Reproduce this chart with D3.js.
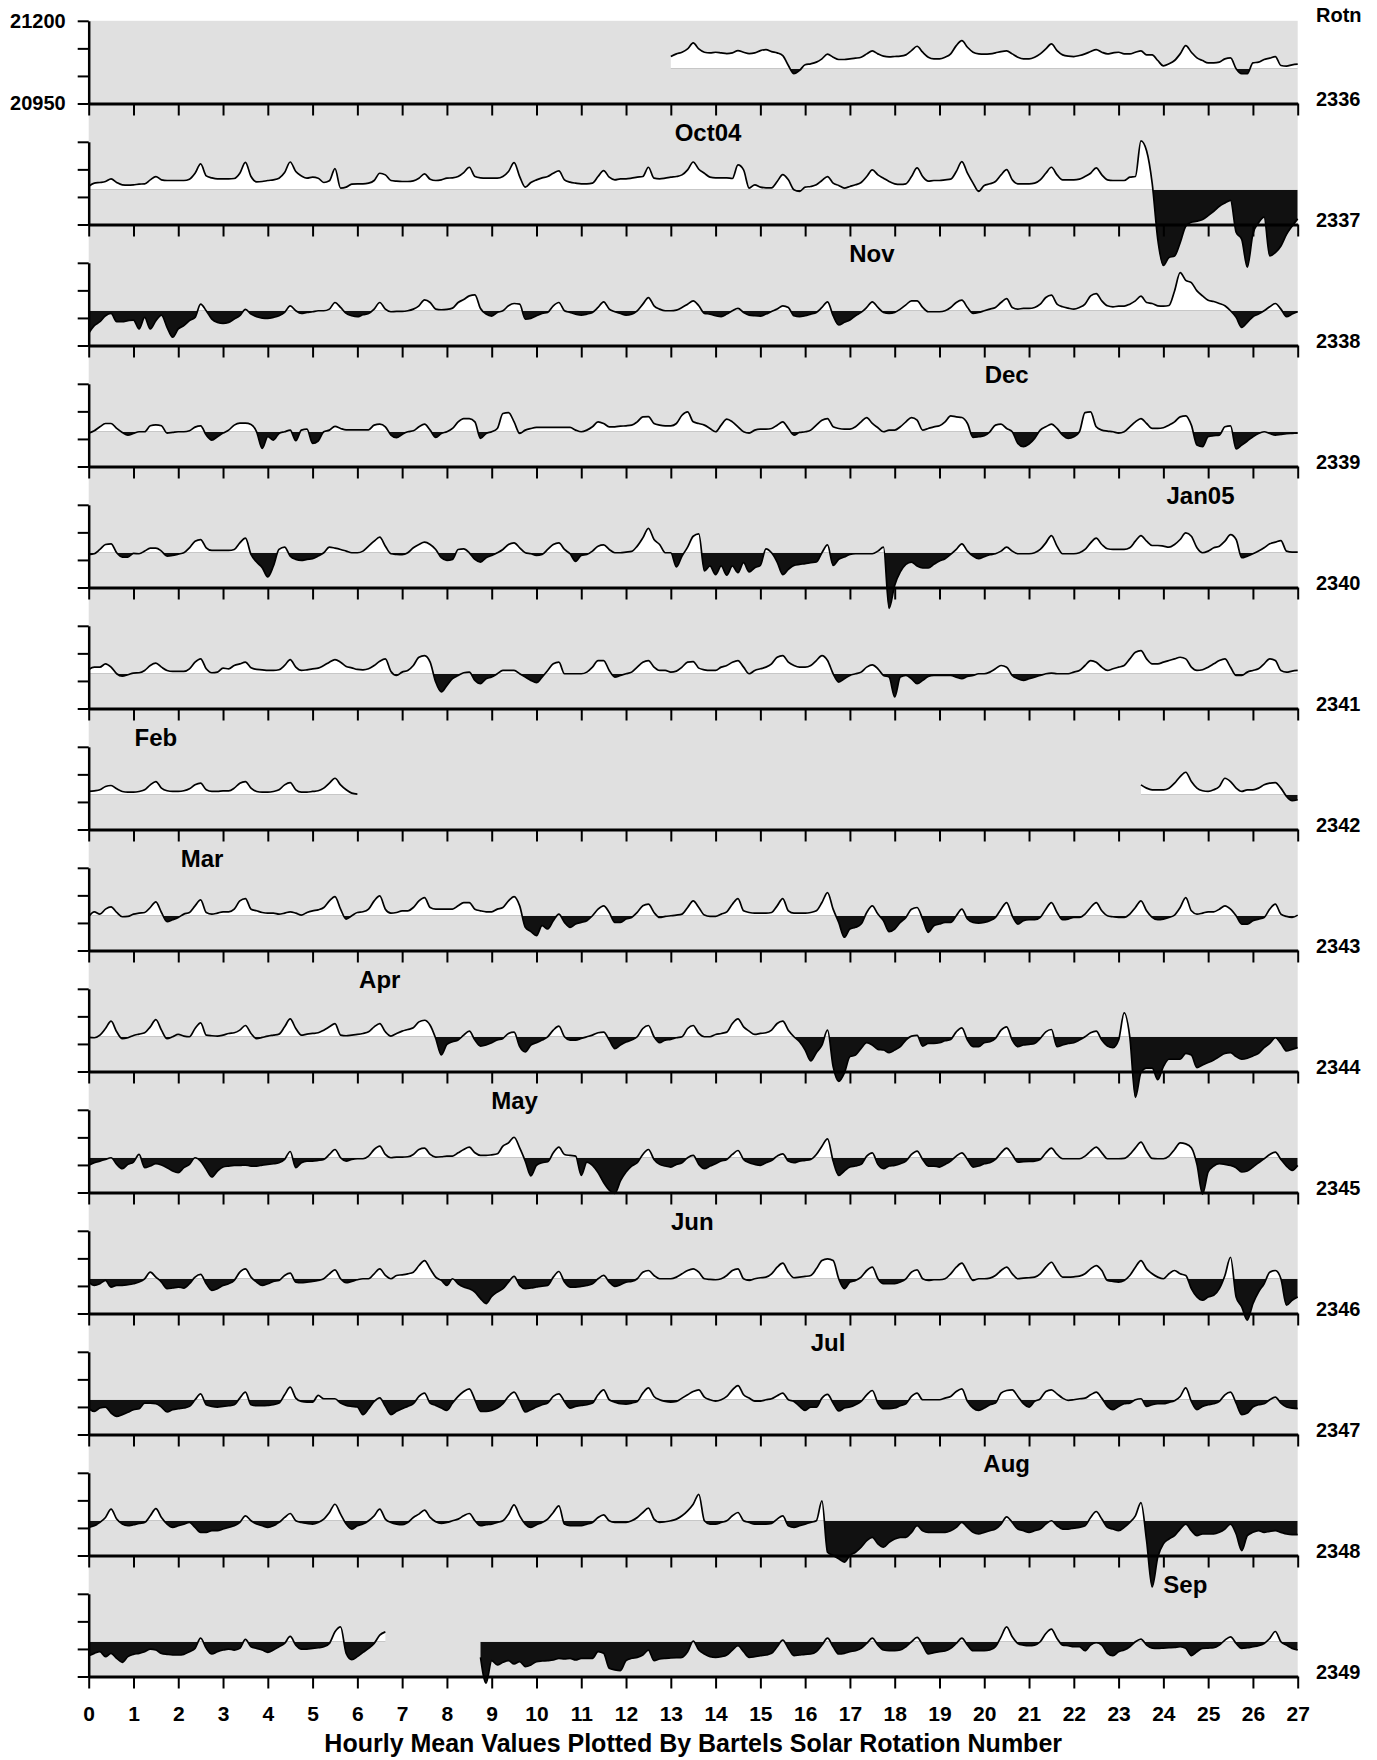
<!DOCTYPE html>
<html>
<head>
<meta charset="utf-8">
<script src="https://cdn.jsdelivr.net/npm/d3@7"></script>
<style>
  body { margin: 0; background: #fff; }
  svg { display: block; font-family: "Liberation Sans", Arial, Helvetica, sans-serif; font-weight: bold; }
</style>
</head>
<body>
<svg id="chart" width="1377" height="1760"></svg>
<script>
// Hourly mean H, one row per Bartels rotation.
// Values are nT departures from QUIET, every 3 hours (8 per day, day 0 .. 27).
// null = no data.
const _ = null
const QUIET = 21055
const Y_LABELS = [21200, 20950]
const ROTATIONS = [2336, 2337, 2338, 2339, 2340, 2341, 2342, 2343, 2344, 2345, 2346, 2347, 2348, 2349]
const MONTHS = ['Oct04', 'Nov', 'Dec', 'Jan05', 'Feb', 'Mar', 'Apr', 'May', 'Jun', 'Jul', 'Aug', 'Sep']
const MONTH_ROW = [1, 2, 3, 4, 6, 7, 8, 9, 10, 11, 12, 13]
const MONTH_DAY = [13.83, 17.49, 20.5, 24.83, 1.5, 2.53, 6.5, 9.51, 13.48, 16.51, 20.5, 24.49]
const DAYS = d3.range(0, 28)

const h2336 = [
  _,_,_,_,_,_,_,_, _,_,_,_,_,_,_,_, _,_,_,_,_,_,_,_, _,_,_,_,_,_,_,_,
  _,_,_,_,_,_,_,_, _,_,_,_,_,_,_,_, _,_,_,_,_,_,_,_, _,_,_,_,_,_,_,_,
  _,_,_,_,_,_,_,_, _,_,_,_,_,_,_,_, _,_,_,_,_,_,_,_, _,_,_,_,_,_,_,_,
  _,_,_,_,_,_,_,_,
  37,45,50,60,78,60,50,48,
  50,48,46,48,55,50,46,48,
  55,58,52,48,40,10,-15,-5,
  12,15,20,30,44,35,28,28,
  30,32,35,45,54,45,38,36,
  37,38,42,55,68,50,35,30,
  30,35,45,70,85,65,50,45,
  44,45,48,52,54,45,35,30,
  30,35,45,60,75,55,42,38,
  37,40,45,52,58,50,45,48,
  50,45,45,50,54,42,42,25,
  9,15,25,45,70,50,33,25,
  18,18,20,30,33,0,-15,-15,
  18,20,28,32,37,10,8,12,
  14]

const h2337 = [
  10,20,22,25,33,22,15,14,
  15,17,18,30,40,30,28,28,
  28,28,32,50,78,42,36,33,
  33,33,34,50,83,40,24,25,
  28,30,35,52,84,55,42,35,
  38,35,22,27,64,5,8,17,
  18,18,20,28,50,45,28,26,
  25,25,27,35,48,32,28,30,
  35,36,40,52,68,40,36,35,
  35,35,40,55,82,40,8,22,
  30,36,40,50,57,30,23,20,
  18,18,20,40,58,38,30,33,
  33,35,38,40,68,35,33,35,
  38,40,45,60,84,62,50,38,
  36,36,36,34,75,60,5,15,
  8,6,6,25,46,30,0,-5,
  8,10,15,28,40,20,13,5,
  10,15,22,40,60,45,35,25,
  18,16,18,40,66,40,26,28,
  28,30,32,55,85,50,20,-5,
  13,18,25,45,61,30,18,18,
  18,20,30,50,68,45,30,30,
  30,32,40,50,66,45,30,28,
  28,28,38,40,148,118,20,-150,
  -229,-205,-200,-160,-110,-98,-95,-90,
  -78,-65,-50,-40,-32,-128,-150,-234,
  -133,-100,-83,-200,-190,-170,-135,-110,
  -88]

const h2338 = [
  -68,-45,-33,-15,-8,-33,-33,-30,
  -28,-55,-20,-55,-30,-13,-50,-80,
  -55,-45,-30,-20,20,0,-25,-35,
  -38,-35,-25,-15,4,-10,-18,-22,
  -23,-20,-15,-5,15,0,-8,-5,
  -3,0,0,5,25,10,-8,-15,
  -18,-12,-8,5,25,5,-3,-2,
  -2,0,5,15,33,25,5,3,
  4,8,25,34,45,48,7,-10,
  -16,-5,0,15,22,20,-25,-23,
  -15,-8,-5,15,25,0,-5,-10,
  -13,-10,-5,10,27,5,-3,-8,
  -13,-10,0,20,40,15,5,0,
  0,2,10,20,30,15,-8,-10,
  -15,-18,-10,0,7,-5,-13,-15,
  -16,-10,-2,5,15,10,-15,-18,
  -15,-10,-5,10,27,-15,-43,-35,
  -28,-15,-5,10,27,10,-5,-8,
  -5,5,18,30,30,10,-3,-3,
  -3,0,10,25,32,10,-8,-5,
  0,5,10,25,37,10,5,7,
  7,10,20,40,47,20,12,8,
  5,10,20,45,52,30,15,12,
  14,14,20,30,44,25,22,15,
  14,16,60,115,92,85,60,45,
  32,28,22,15,0,-20,-50,-35,
  -18,-10,0,12,22,5,-18,-10,
  -3]

const h2339 = [
  -4,3,15,25,25,10,-2,-10,
  -5,0,0,18,21,18,-4,-2,
  0,0,3,14,18,-10,-25,-15,
  -4,5,20,26,26,22,0,-50,
  -15,-25,-5,0,5,-27,5,8,
  -35,-28,0,5,16,10,6,6,
  6,6,6,20,23,15,-10,-18,
  -8,0,3,15,23,5,-17,-5,
  0,10,30,40,40,30,-20,-5,
  0,10,55,58,30,-5,5,10,
  13,13,13,13,13,13,13,5,
  0,5,15,30,25,15,15,17,
  18,20,30,45,46,25,20,18,
  18,25,50,60,30,25,20,10,
  0,20,38,30,15,0,-4,5,
  8,8,10,20,30,10,-10,-2,
  0,5,20,35,40,15,10,8,
  8,15,30,43,25,12,0,5,
  5,15,30,43,35,5,10,15,
  18,30,48,45,43,25,-17,-15,
  -12,0,20,23,10,0,-35,-45,
  -37,-20,5,15,23,10,-10,-20,
  -15,0,58,60,15,5,2,0,
  -4,0,15,30,40,25,10,10,
  12,20,30,45,48,20,-40,-45,
  -15,-12,-10,15,18,-52,-40,-28,
  -15,-5,0,-5,-10,-8,-6,-5,
  -4]

const h2340 = [
  -6,-3,10,25,27,0,-13,-13,
  -2,-3,5,14,14,5,-10,-8,
  -4,0,15,35,40,15,7,7,
  7,7,10,30,44,-5,-28,-45,
  -73,-40,10,17,-10,-20,-23,-20,
  -18,-10,0,17,14,10,5,0,
  0,5,20,35,47,20,-3,-5,
  -6,0,15,25,32,25,10,-15,
  -23,-20,10,12,0,-20,-28,-15,
  -8,0,10,25,30,15,0,-3,
  -8,-5,10,25,30,10,-3,-26,
  -8,-5,5,20,24,10,0,0,
  2,4,20,45,74,40,25,0,
  0,-43,-10,17,50,57,-55,-40,
  -66,-40,-68,-40,-60,-30,-58,-45,
  -38,12,0,-28,-66,-50,-38,-35,
  -33,-30,-28,0,24,-38,-20,-13,
  -5,-3,-3,-3,-3,5,17,-168,
  -98,-58,-35,-28,-40,-46,-46,-35,
  -25,-18,-5,10,27,5,-10,-18,
  -12,-6,-3,5,17,5,-3,-3,
  -3,0,10,30,52,20,-3,-3,
  -3,0,10,30,44,25,12,10,
  10,10,15,35,52,35,22,22,
  20,17,25,40,60,50,15,0,
  5,15,20,35,55,40,-15,-10,
  -3,5,15,27,32,37,5,2,
  2]

const h2341 = [
  13,20,20,30,20,0,-7,-3,
  2,3,10,25,32,20,10,7,
  7,7,15,35,45,15,3,5,
  17,15,25,30,35,18,13,12,
  10,10,12,25,43,20,10,12,
  15,17,25,35,43,35,22,18,
  13,12,15,25,38,45,7,-5,
  5,10,25,50,55,35,-25,-55,
  -35,-15,-5,3,5,-20,-30,-15,
  -10,0,10,10,10,0,-10,-20,
  -27,-10,10,30,35,0,0,0,
  0,5,20,40,40,10,-10,-5,
  0,5,20,35,40,20,10,10,
  5,8,20,35,37,17,12,10,
  10,20,25,35,40,20,0,10,
  15,20,30,50,55,35,25,20,
  20,25,40,55,40,0,-25,-15,
  -5,0,5,20,27,15,-5,-10,
  -70,-10,-5,-15,-30,-20,-8,-5,
  -5,-5,-5,-10,-15,-8,-5,0,
  0,5,15,25,20,-5,-15,-20,
  -15,-10,-5,0,2,0,0,0,
  5,10,25,40,35,20,10,15,
  20,25,45,65,70,45,30,30,
  35,40,45,50,45,20,10,12,
  20,30,40,45,20,-5,-5,5,
  10,15,30,45,40,10,5,8,
  10]

const h2342 = [
  10,12,15,25,28,18,10,8,
  8,10,15,30,40,20,12,10,
  10,12,18,30,35,15,10,10,
  12,12,20,35,40,20,10,8,
  8,10,15,30,37,15,8,8,
  10,12,20,35,50,30,15,5,
  2,_,_,_,_,_,_,_,
  _,_,_,_,_,_,_,_, _,_,_,_,_,_,_,_, _,_,_,_,_,_,_,_, _,_,_,_,_,_,_,_,
  _,_,_,_,_,_,_,_, _,_,_,_,_,_,_,_, _,_,_,_,_,_,_,_, _,_,_,_,_,_,_,_,
  _,_,_,_,_,_,_,_, _,_,_,_,_,_,_,_, _,_,_,_,_,_,_,_, _,_,_,_,_,_,_,_,
  _,_,_,_,_,_,_,_, _,_,_,_,_,_,_,_, _,_,_,_,_,_,_,_, _,_,_,_,_,_,_,_,
  _,_,_,_,30,20,15,15,
  15,20,35,55,68,40,20,12,
  10,15,25,50,40,20,10,15,
  15,20,30,35,37,20,-5,-18,
  -15]

const h2343 = [
  -2,12,5,20,27,10,-3,-2,
  5,8,10,25,42,10,-18,-12,
  -5,5,10,30,48,10,5,8,
  12,12,20,45,52,20,15,10,
  8,8,5,8,12,8,2,10,
  15,18,25,45,58,20,-10,0,
  10,12,20,45,60,20,8,10,
  15,15,25,45,55,25,20,20,
  20,20,30,40,40,20,15,12,
  12,20,25,45,58,30,-35,-48,
  -60,-30,-40,-15,5,-20,-35,-25,
  -20,-15,0,20,30,10,-20,-20,
  -10,-5,10,30,35,10,-5,-2,
  0,2,5,25,45,25,2,-2,
  -2,5,12,35,52,15,10,8,
  8,8,10,30,52,15,8,8,
  8,10,15,40,70,20,-20,-65,
  -40,-35,-25,10,30,5,-15,-48,
  -40,-20,-5,20,25,-10,-50,-30,
  -25,-20,-20,0,20,-10,-20,-22,
  -20,-15,-5,20,40,0,-25,-15,
  -12,-12,-5,20,40,10,-12,-10,
  -5,-5,5,25,40,15,0,-3,
  -5,-5,5,25,45,15,-5,-12,
  -10,-5,2,25,55,15,5,8,
  12,12,20,30,20,0,-25,-25,
  -15,-10,-5,20,35,5,-2,-5,
  2]

const h2344 = [
  -2,-3,5,25,47,15,-6,-3,
  4,8,12,30,52,20,-6,0,
  7,2,0,25,42,5,3,2,
  5,10,12,20,34,10,-6,-2,
  2,5,8,30,54,25,5,8,
  10,12,20,30,40,5,3,5,
  7,10,15,30,40,15,2,10,
  17,22,27,45,50,35,-5,-55,
  -23,-15,-10,5,17,-10,-28,-25,
  -18,-10,-5,10,14,-30,-46,-25,
  -18,-10,0,20,32,0,-10,-10,
  -5,0,5,12,14,-10,-36,-25,
  -16,-10,0,25,34,0,-18,-10,
  -8,-3,0,25,34,10,0,0,
  7,10,14,40,54,30,17,7,
  10,12,20,40,47,20,0,-15,
  -40,-73,-48,-25,20,-90,-135,-110,
  -60,-55,-35,-18,-25,-38,-40,-48,
  -40,-30,-10,2,4,-28,-20,-20,
  -18,-12,-8,15,27,-10,-30,-30,
  -18,-15,-5,20,30,-10,-30,-25,
  -23,-20,-5,15,22,-30,-25,-20,
  -18,-10,0,12,17,-10,-28,-33,
  -10,72,0,-183,-108,-95,-95,-130,
  -90,-68,-68,-68,-50,-55,-93,-85,
  -78,-70,-60,-50,-48,-60,-68,-65,
  -58,-50,-33,-20,-3,-20,-43,-38,
  -33]

const h2345 = [
  -23,-15,-10,-5,0,-20,-33,-20,
  -13,10,-30,-25,-18,-22,-30,-40,
  -45,-30,-20,0,-10,-35,-58,-40,
  -28,-25,-23,-23,-22,-25,-25,-22,
  -20,-18,-15,-5,19,-30,-15,-10,
  -10,-8,-5,10,25,0,-10,-5,
  -3,-3,5,25,35,10,0,2,
  2,3,10,25,29,10,2,3,
  5,5,15,25,32,15,7,7,
  9,12,35,45,62,30,-10,-55,
  -23,-15,-12,15,32,10,7,5,
  -53,-13,-23,-45,-75,-98,-108,-70,
  -43,-25,-15,10,25,-5,-20,-25,
  -28,-20,-15,0,7,-20,-33,-25,
  -18,-10,-5,10,22,-5,-15,-20,
  -23,-15,-8,5,12,-10,-15,-10,
  -8,-5,10,35,57,-10,-53,-40,
  -28,-25,-20,5,15,-20,-33,-25,
  -23,-18,-10,10,20,-5,-25,-25,
  -28,-20,-10,5,15,-5,-28,-25,
  -18,-15,-5,15,29,10,-13,-12,
  -11,-10,-5,15,29,10,-3,-3,
  -3,-3,5,20,32,15,-3,-3,
  -3,-2,10,30,47,20,-2,-3,
  -3,5,25,45,42,30,-20,-110,
  -43,-25,-18,-20,-23,-30,-43,-40,
  -28,-15,-3,10,17,-5,-25,-38,
  -23]

const h2346 = [
  -10,-20,-15,-5,-25,-20,-20,-18,
  -15,-10,0,20,5,-10,-30,-28,
  -25,-28,-15,5,13,-15,-35,-30,
  -20,-15,-5,20,30,5,-10,-20,
  -15,-8,-5,10,17,-10,-12,-10,
  -8,-5,0,15,27,0,-12,-8,
  -3,0,0,15,30,10,0,10,
  12,15,20,40,55,30,5,-5,
  -20,0,-15,-25,-30,-40,-60,-75,
  -53,-40,-30,-10,7,-20,-30,-28,
  -25,-22,-20,5,22,-10,-25,-25,
  -23,-20,-15,0,10,-10,-23,-18,
  -10,-8,0,20,25,10,0,0,
  0,5,15,25,30,20,0,-2,
  -3,0,10,25,30,0,-5,0,
  3,5,15,35,47,20,3,5,
  7,10,30,55,60,55,0,-30,
  -10,-5,5,25,35,0,-15,-15,
  -15,-10,0,20,27,0,-5,-3,
  -3,0,15,35,47,20,-5,0,
  0,2,10,25,35,15,0,2,
  3,5,15,35,50,25,5,5,
  6,8,15,30,40,25,-5,-8,
  -10,-5,10,35,55,30,15,5,
  0,15,25,15,10,-30,-55,-65,
  -55,-50,-30,10,65,-55,-85,-125,
  -75,-40,-15,20,25,0,-80,-65,
  -55]

const h2347 = [
  -27,-35,-25,-22,-40,-50,-45,-38,
  -30,-27,-10,-10,-12,-22,-37,-30,
  -27,-25,-20,0,18,-15,-20,-22,
  -20,-18,-15,5,23,-15,-18,-18,
  -17,-15,-10,15,38,5,-5,-7,
  -7,13,3,3,3,-10,-17,-20,
  -22,-45,-27,-5,6,-20,-45,-35,
  -27,-20,-12,10,20,-10,-17,-25,
  -32,-10,10,25,33,0,-35,-35,
  -32,-25,-12,10,23,-5,-37,-30,
  -22,-15,-10,10,18,-5,-25,-20,
  -17,-15,-10,15,30,0,-7,-12,
  -13,-10,-5,20,36,10,0,-5,
  -7,-5,5,15,25,30,8,0,
  -4,0,10,30,43,15,5,-4,
  -4,0,3,12,20,0,-5,-20,
  -32,-22,-22,5,16,-10,-34,-25,
  -22,-15,-5,15,28,-10,-27,-27,
  -25,-18,-12,10,20,0,0,0,
  0,5,10,25,33,-5,-25,-32,
  -25,-15,-10,20,28,30,10,-12,
  -22,-5,3,25,30,18,5,-2,
  0,3,5,15,23,5,-20,-30,
  -20,-12,-10,0,3,-20,-15,-12,
  -12,-8,-3,10,36,-5,-30,-20,
  -15,-12,-5,15,23,-10,-45,-40,
  -22,-15,-12,0,8,-10,-22,-25,
  -27]

const h2348 = [
  -20,-15,-5,10,35,5,-10,-15,
  -12,-8,-5,15,37,10,-10,-20,
  -15,-10,-5,-20,-35,-35,-30,-30,
  -25,-20,-15,-5,15,0,-10,-15,
  -20,-15,-5,10,22,0,-5,-8,
  -10,-5,5,25,50,20,-10,-25,
  -15,-10,0,15,35,5,-5,-10,
  -12,-5,10,20,32,10,-3,-8,
  -5,0,5,15,22,0,-15,-12,
  -10,-5,0,20,48,15,-10,-20,
  -12,-5,5,25,45,-10,-15,-15,
  -15,-10,-5,10,18,0,-5,-5,
  -5,0,10,25,38,5,-5,-3,
  0,5,15,30,50,80,0,-10,
  -10,-5,0,15,25,0,-5,-10,
  -10,-10,-8,5,15,-15,-20,-15,
  -10,-5,0,60,-95,-105,-115,-125,
  -105,-95,-80,-60,-50,-70,-80,-65,
  -55,-50,-50,-35,-15,-30,-35,-35,
  -35,-35,-30,-20,-5,-20,-35,-40,
  -35,-30,-25,-10,12,-5,-25,-30,
  -35,-30,-25,-10,0,-15,-25,-25,
  -22,-20,-15,10,28,5,-20,-25,
  -30,-20,-5,15,55,-60,-200,-110,
  -70,-55,-45,-25,-10,-30,-45,-40,
  -40,-40,-35,-25,-10,-40,-90,-45,
  -35,-30,-35,-32,-30,-35,-40,-42,
  -42]

const h2349 = [
  -42,-35,-30,-45,-35,-50,-62,-45,
  -38,-35,-30,-22,-25,-35,-38,-40,
  -40,-38,-30,-20,11,-20,-37,-30,
  -25,-22,-25,-20,7,-15,-20,-25,
  -32,-25,-15,-5,16,-10,-22,-22,
  -20,-18,-15,-5,30,45,-35,-54,
  -45,-32,-20,-5,20,30,_,_,
  _,_,_,_,_,_,_,_,
  _,_,_,_,_,_,-47,-125,
  -57,-70,-62,-57,-67,-60,-75,-70,
  -60,-58,-57,-55,-50,-52,-50,-55,
  -50,-50,-50,-30,-35,-80,-85,-87,
  -57,-50,-47,-40,-25,-57,-52,-50,
  -49,-48,-47,-30,2,-25,-37,-45,
  -47,-45,-40,-25,-12,-30,-47,-45,
  -42,-40,-35,-15,5,-20,-42,-40,
  -38,-37,-30,-10,11,-15,-37,-35,
  -30,-27,-20,-5,11,-10,-25,-27,
  -27,-25,-15,0,13,-10,-37,-33,
  -30,-28,-20,-5,11,-10,-27,-27,
  -27,-25,-15,15,45,15,-5,-10,
  -12,-10,0,25,38,10,-10,-12,
  -15,-15,-27,-10,-3,-10,-35,-42,
  -30,-25,-15,0,8,-10,-19,-20,
  -19,-18,-17,-15,-20,-42,-30,-20,
  -19,-18,-10,5,15,-5,-20,-18,
  -15,-12,-5,10,31,0,-10,-20,
  -25]

const series = [h2336, h2337, h2338, h2339, h2340, h2341, h2342,
                h2343, h2344, h2345, h2346, h2347, h2348, h2349]

// layout
const WIDTH = 1377
const HEIGHT = 1760
const LEFT = 88.7
const RIGHT = 1297.7
const FIRST_BASE = 103.5
const ROW_STEP = 121
const ROW_SPAN = 82.7

const svg = d3.select('#chart')
const x = d3.scaleLinear().domain([0, 27]).range([LEFT, RIGHT])
const rowBase = i => FIRST_BASE + ROW_STEP * i
const rowScale = i => d3.scaleLinear().domain([20950, 21200]).range([rowBase(i), rowBase(i) - ROW_SPAN])
const leftTicks = d3.range(4).map(k => 20950 + k * 250 / 3)
const lastRow = series.length - 1

svg.append('rect')
  .attr('x', LEFT)
  .attr('y', rowBase(0) - ROW_SPAN)
  .attr('width', RIGHT - LEFT)
  .attr('height', rowBase(lastRow) - rowBase(0) + ROW_SPAN)
  .attr('fill', '#e0e0e0')

const defs = svg.append('defs')

series.forEach((vals, i) => {
  const y = rowScale(i)
  const yq = y(QUIET)
  defs.append('clipPath').attr('id', `above${i}`)
    .append('rect').attr('x', LEFT).attr('y', 0).attr('width', RIGHT - LEFT).attr('height', yq)
  defs.append('clipPath').attr('id', `below${i}`)
    .append('rect').attr('x', LEFT).attr('y', yq).attr('width', RIGHT - LEFT).attr('height', HEIGHT - yq)

  const pts = vals.map((d, k) => ({ t: k / 8, v: d == null ? null : QUIET + d }))
  const area = d3.area().curve(d3.curveMonotoneX)
    .defined(d => d.v != null).x(d => x(d.t)).y0(yq).y1(d => y(d.v))
  const line = d3.line().curve(d3.curveMonotoneX)
    .defined(d => d.v != null).x(d => x(d.t)).y(d => y(d.v))

  const g = svg.append('g').attr('class', 'row')
  g.append('path').attr('d', area(pts)).attr('fill', '#fff').attr('clip-path', `url(#above${i})`)
  g.append('path').attr('d', area(pts)).attr('fill', '#111').attr('clip-path', `url(#below${i})`)
  g.append('path').attr('d', line(pts))
    .attr('fill', 'none').attr('stroke', '#000').attr('stroke-width', 1.7).attr('stroke-linejoin', 'round')
})

// axes on every row
series.forEach((vals, i) => {
  const y = rowScale(i)

  const left = svg.append('g')
    .attr('transform', `translate(${LEFT}, 0)`)
    .call(d3.axisLeft(y).tickValues(leftTicks).tickSize(11).tickSizeOuter(0).tickPadding(12)
      .tickFormat(d => (i === 0 && Y_LABELS.includes(Math.round(d))) ? Math.round(d) : ''))
  left.attr('font-family', null).attr('font-size', 20).attr('font-weight', 'bold')
  left.select('.domain').attr('stroke-width', 2.5)
  left.selectAll('.tick line').attr('stroke-width', 2)
  left.selectAll('.tick text').attr('fill', '#000')

  const bottom = svg.append('g')
    .attr('transform', `translate(0, ${rowBase(i)})`)
    .call(d3.axisBottom(x).tickValues(DAYS).tickSize(12).tickSizeOuter(0).tickPadding(18)
      .tickFormat(d => i === lastRow ? d : ''))
  bottom.attr('font-family', null).attr('font-size', 21).attr('font-weight', 'bold')
  bottom.select('.domain').attr('stroke-width', 3)
  bottom.selectAll('.tick line').attr('stroke-width', 2)
  bottom.selectAll('.tick text').attr('fill', '#000')
})

// rotation numbers
svg.append('text')
  .attr('x', 1316).attr('y', 15)
  .attr('dominant-baseline', 'central')
  .attr('font-size', 20)
  .text('Rotn')

svg.selectAll('.rotn')
  .data(ROTATIONS)
  .join('text')
  .attr('class', 'rotn')
  .attr('x', 1316)
  .attr('y', (d, i) => rowBase(i) - 5)
  .attr('dominant-baseline', 'central')
  .attr('font-size', 20)
  .text(d => d)

// month markers
svg.selectAll('.month')
  .data(MONTHS)
  .join('text')
  .attr('class', 'month')
  .attr('x', (d, i) => x(MONTH_DAY[i]))
  .attr('y', (d, i) => rowBase(MONTH_ROW[i] - 1) + 29)
  .attr('text-anchor', 'middle')
  .attr('dominant-baseline', 'central')
  .attr('font-size', 24)
  .text(d => d)

svg.append('text')
  .attr('x', (LEFT + RIGHT) / 2)
  .attr('y', 1743)
  .attr('text-anchor', 'middle')
  .attr('dominant-baseline', 'central')
  .attr('font-size', 25)
  .text('Hourly Mean Values Plotted By Bartels Solar Rotation Number')
</script>
</body>
</html>
